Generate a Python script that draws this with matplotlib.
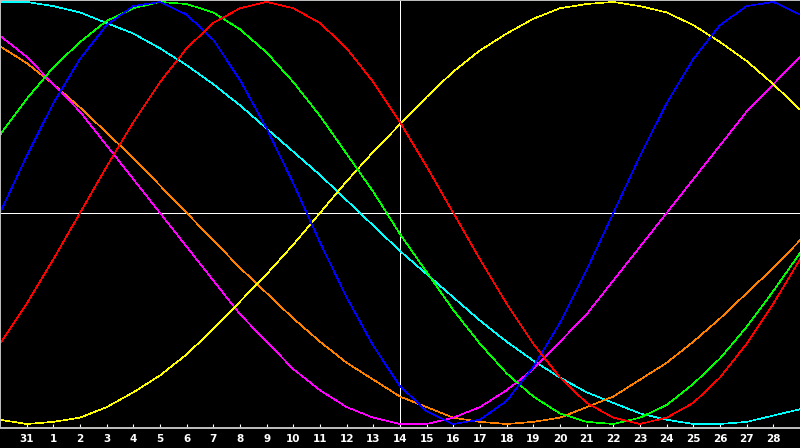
import matplotlib
matplotlib.use("Agg")
import matplotlib.pyplot as plt
import numpy as np

# day labels (tick 1 .. 29), 31 points per curve (day index 0 .. 30)
day_labels = ["31", "1", "2", "3", "4", "5", "6", "7", "8", "9", "10", "11", "12", "13",
              "14", "15", "16", "17", "18", "19", "20", "21", "22", "23", "24", "25",
              "26", "27", "28"]

red = [-62, -43, -22, 0, 22, 43, 62, 78, 90, 97, 100, 97, 90, 78, 62, 43, 22, 0,
       -22, -43, -62, -78, -90, -97, -100, -97, -90, -78, -62, -43, -22]
green = [37, 54, 69, 81, 91, 97, 100, 99, 95, 87, 76, 62, 46, 28, 10, -10, -28, -46,
         -62, -76, -87, -95, -99, -100, -97, -91, -81, -69, -54, -37, -19]
blue = [0, 27, 52, 73, 89, 98, 100, 94, 82, 63, 40, 14, -14, -40, -63, -82, -94, -100,
        -98, -89, -73, -52, -27, 0, 27, 52, 73, 89, 98, 100, 94]
cyan = [100, 100, 98, 95, 90, 85, 78, 70, 61, 51, 40, 29, 18, 6, -6, -18, -29, -40,
        -51, -61, -70, -78, -85, -90, -95, -98, -100, -100, -99, -96, -93]
yellow = [-98, -100, -99, -97, -92, -85, -77, -67, -55, -42, -29, -15, 0, 15, 29, 42,
          55, 67, 77, 85, 92, 97, 99, 100, 98, 95, 89, 81, 72, 61, 49]
magenta = [84, 74, 61, 48, 32, 16, 0, -16, -32, -48, -61, -74, -84, -92, -97, -100,
           -100, -97, -92, -84, -74, -61, -48, -32, -16, 0, 16, 32, 48, 61, 74]
orange = [79, 71, 61, 50, 38, 26, 13, 0, -13, -26, -38, -50, -61, -71, -79, -87, -92,
          -97, -99, -100, -99, -97, -92, -87, -79, -71, -61, -50, -38, -26, -13]

series = [
    (cyan, "#00ffff"),
    (orange, "#ff8000"),
    (magenta, "#ff00ff"),
    (yellow, "#ffff00"),
    (green, "#00ff00"),
    (blue, "#0000ff"),
    (red, "#ff0000"),
]

days = np.arange(len(red))

fig = plt.figure(figsize=(8, 4.48), dpi=100, facecolor="black")
ax = fig.add_axes([0, 20 / 448, 1, 428 / 448])
ax.set_facecolor("black")

ax.axhline(0, color="white", lw=0.7, zorder=1, antialiased=False)
ax.axvline(15, color="white", lw=0.7, zorder=1, antialiased=False)

for vals, col in series:
    ax.plot(days, vals, color=col, lw=0.45, zorder=2, antialiased=False)

ax.set_xlim(0, 30)
ax.set_ylim(-101.9, 100.9)

for side in ["top", "left", "bottom"]:
    ax.spines[side].set_color("#c0c0c0")
    ax.spines[side].set_linewidth(1.4)
ax.spines["right"].set_visible(False)

ax.set_xticks(np.arange(1, 30))
ax.set_xticklabels(day_labels, fontsize=7.5, fontweight="bold", color="white")
ax.tick_params(axis="x", direction="in", length=3, width=0.8, color="white", pad=4.5)
ax.set_yticks([])

fig.savefig("out.png", dpi=100, facecolor="black")
plt.close(fig)
